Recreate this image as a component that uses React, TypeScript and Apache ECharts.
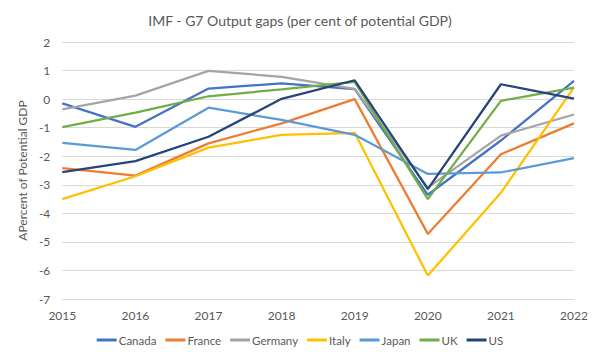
import React, { useEffect, useRef } from "react";
import * as echarts from "echarts";

const years = ["2015", "2016", "2017", "2018", "2019", "2020", "2021", "2022"];
const canada = [-0.15, -0.97, 0.37, 0.55, 0.35, -3.35, -1.45, 0.64];
const france = [-2.42, -2.68, -1.55, -0.85, 0.0, -4.72, -1.93, -0.85];
const germany = [-0.36, 0.12, 0.99, 0.78, 0.36, -3.1, -1.28, -0.54];
const italy = [-3.5, -2.7, -1.7, -1.25, -1.18, -6.18, -3.28, 0.41];
const japan = [-1.53, -1.78, -0.3, -0.73, -1.25, -2.62, -2.57, -2.07];
const uk = [-0.98, -0.47, 0.1, 0.34, 0.6, -3.5, -0.06, 0.4];
const us = [-2.56, -2.17, -1.32, 0.01, 0.66, -3.15, 0.52, 0.02];

const seriesDefs = [
  { name: "Canada", data: canada, color: "#4472C4" },
  { name: "France", data: france, color: "#ED7D31" },
  { name: "Germany", data: germany, color: "#A5A5A5" },
  { name: "Italy", data: italy, color: "#FFC000" },
  { name: "Japan", data: japan, color: "#5B9BD5" },
  { name: "UK", data: uk, color: "#70AD47" },
  { name: "US", data: us, color: "#264478" },
];

const FONT = "Lato, 'Open Sans', sans-serif";
const TXT = "#595959";

export default function App() {
  const ref = useRef<HTMLDivElement>(null);
  useEffect(() => {
    if (!ref.current) return;
    const chart = echarts.init(ref.current, null, { renderer: "svg" });
    chart.setOption({
      animation: false,
      backgroundColor: "#ffffff",
      title: {
        text: "IMF - G7 Output gaps (per cent of potential GDP)",
        left: "center",
        top: 0,
        textStyle: { fontFamily: FONT, fontSize: 14, fontWeight: "normal", color: TXT },
      },
      legend: {
        bottom: 2,
        left: "center",
        icon: "rect",
        itemWidth: 20,
        itemHeight: 3,
        itemGap: 9,
        textStyle: { fontFamily: FONT, fontSize: 11.5, color: TXT, padding: [0, 0, 0, -3] },
        data: seriesDefs.map((s) => s.name),
      },
      grid: { left: 47, right: 18, top: 34, bottom: 54, containLabel: false },
      xAxis: {
        type: "category",
        data: years,
        boundaryGap: false,
        axisLine: { show: false },
        axisTick: { show: false },
        axisLabel: { fontFamily: FONT, fontSize: 12, color: TXT, margin: 10 },
        splitLine: { show: false },
      },
      yAxis: {
        type: "value",
        min: -7,
        max: 2,
        interval: 1,
        name: "APercent of Potential GDP",
        nameLocation: "middle",
        nameGap: 25,
        nameRotate: 90,
        nameTextStyle: { fontFamily: FONT, fontSize: 12, color: TXT },
        axisLine: { show: false },
        axisTick: { show: false },
        axisLabel: { fontFamily: FONT, fontSize: 12, color: TXT, margin: 12 },
        splitLine: { lineStyle: { color: "#D9D9D9", width: 1 } },
      },
      series: seriesDefs.map((s) => ({
        name: s.name,
        type: "line",
        data: s.data,
        symbol: "none",
        color: s.color,
        lineStyle: { width: 2.25, color: s.color },
      })),
    });
    return () => chart.dispose();
  }, []);
  return <div ref={ref} style={{ width: 584, height: 345 }} />;
}
